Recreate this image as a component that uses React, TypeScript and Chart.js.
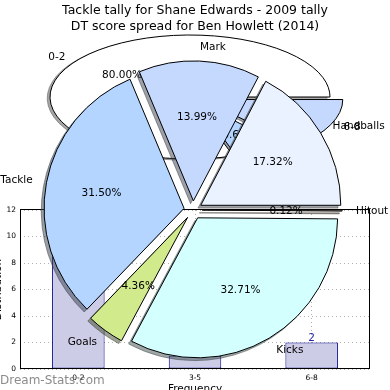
import React, { useEffect, useRef } from "react";
import { Chart, registerables } from "chart.js";

Chart.register(...registerables);

const FONT = '"DejaVu Sans", "Liberation Sans", sans-serif';
const W = 390;
const H = 390;
const LABEL_PX = 10.5;

const titleLines = [
  "Tackle tally for Shane Edwards - 2009 tally",
  "DT score spread for Ben Howlett (2014)",
];
const watermark = "Dream-Stats.com";

// Tackle tally histogram
const tallyCategories = ["0-2", "3-5", "6-8"];
const tallyCounts = [12, 1, 2];
const tallyYMax = 12;
const tallyYStep = 2;
const tallyXTitle = "Frequency";
const tallyYTitle = "Distribution";

// Tackle tally pie (background, elliptical)
const tallyPieColors = ["#FFFFFF", "#B3D5FF", "#C5D9FF"];
const tallyPieExplode = [0, 0.1, 0.1];

// DT score spread pie (front)
const dtCategories = ["Handballs", "Mark", "Tackle", "Goals", "Kicks", "Hitout"];
const dtShares = [17.32, 13.99, 31.5, 4.36, 32.71, 0.12];
const dtColors = ["#EAF1FF", "#C5D9FF", "#B3D5FF", "#D0EA8C", "#D4FFFF", "#FFE4C4"];
const dtExplode = [0.065, 0.065, 0.065, 0.065, 0.065, 0.065];

function hexToRgb(h: string) {
  const n = parseInt(h.slice(1), 16);
  return [(n >> 16) & 255, (n >> 8) & 255, n & 255];
}

function wedge(ctx: CanvasRenderingContext2D, cx: number, cy: number, rx: number, ry: number, a0: number, a1: number) {
  ctx.beginPath();
  ctx.moveTo(cx, cy);
  ctx.ellipse(cx, cy, rx, ry, 0, a0, a1);
  ctx.closePath();
}

function piePlugin(id: string, labels: string[], values: number[], colors: string[], explode: number[], yRatio: number) {
  return {
    id,
    beforeDatasetsDraw(chart: any) {
      const ctx: CanvasRenderingContext2D = chart.ctx;
      const meta = chart.getDatasetMeta(0);
      const n = meta.data.length;
      const total = values.reduce((a, b) => a + b, 0);
      const items = meta.data.map((el: any, i: number) => {
        const k = n - 1 - i;
        const p = el.getProps(["x", "y", "startAngle", "endAngle", "outerRadius"], true);
        const rx = p.outerRadius;
        const ry = p.outerRadius * yRatio;
        const mid = (p.startAngle + p.endAngle) / 2;
        const e = explode[k];
        return {
          el, k, x: p.x, y: p.y,
          cx: p.x + Math.cos(mid) * e * rx,
          cy: p.y + Math.sin(mid) * e * ry,
          rx, ry, a0: p.startAngle, a1: p.endAngle, mid,
        };
      });
      // shadows
      items.forEach((it: any) => {
        const [r, g, b] = hexToRgb(colors[it.k]);
        const c = `rgba(${Math.round(r * 0.3)},${Math.round(g * 0.3)},${Math.round(b * 0.3)},0.5)`;
        ctx.save();
        ctx.fillStyle = c;
        ctx.strokeStyle = c;
        ctx.lineWidth = 1;
        wedge(ctx, it.cx - 0.02 * it.rx, it.cy + 0.02 * it.ry, it.rx, it.ry, it.a0, it.a1);
        ctx.fill();
        ctx.stroke();
        ctx.restore();
      });
      // wedges
      items.forEach((it: any) => {
        if (yRatio === 1) {
          ctx.save();
          ctx.translate(it.cx - it.x, it.cy - it.y);
          it.el.draw(ctx);
          ctx.restore();
        } else {
          ctx.save();
          ctx.fillStyle = colors[it.k];
          ctx.strokeStyle = "#000";
          ctx.lineWidth = 1;
          ctx.lineJoin = "miter";
          wedge(ctx, it.cx, it.cy, it.rx, it.ry, it.a0, it.a1);
          ctx.fill();
          ctx.stroke();
          ctx.restore();
        }
      });
      // labels
      ctx.save();
      ctx.font = `${LABEL_PX}px ${FONT}`;
      ctx.fillStyle = "#000";
      ctx.textBaseline = "middle";
      items.forEach((it: any) => {
        const c = Math.cos(it.mid);
        const s = Math.sin(it.mid);
        ctx.textAlign = c >= 0 ? "left" : "right";
        ctx.fillText(labels[it.k], it.cx + 1.1 * it.rx * c, it.cy + 1.1 * it.ry * s + 0.5);
        ctx.textAlign = "center";
        ctx.fillText(((values[it.k] / total) * 100).toFixed(2) + "%", it.cx + 0.6 * it.rx * c, it.cy + 0.6 * it.ry * s + 0.5);
      });
      ctx.restore();
      return false;
    },
  };
}

const barDecor = {
  id: "barDecor",
  afterDatasetsDraw(chart: any) {
    const ctx: CanvasRenderingContext2D = chart.ctx;
    const ca = chart.chartArea;
    ctx.save();
    ctx.strokeStyle = "#000";
    ctx.lineWidth = 1;
    const l = Math.round(ca.left) + 0.5;
    const t = Math.round(ca.top) - 0.5;
    const r = Math.round(ca.right) - 0.5;
    const b = Math.round(ca.bottom) - 0.5;
    ctx.strokeRect(l, t, r - l, b - t);
    // value labels
    const meta = chart.getDatasetMeta(0);
    ctx.font = `${LABEL_PX}px ${FONT}`;
    ctx.fillStyle = "#2828A8";
    ctx.textAlign = "center";
    ctx.textBaseline = "alphabetic";
    meta.data.forEach((el: any, i: number) => {
      ctx.fillText(String(tallyCounts[i]), el.x, el.y - 1.5);
    });
    // axis titles
    ctx.fillStyle = "#000";
    ctx.fillText(tallyXTitle, (ca.left + ca.right) / 2, 392);
    ctx.translate(0.5, (ca.top + ca.bottom) / 2);
    ctx.rotate(-Math.PI / 2);
    ctx.fillText(tallyYTitle, 0, 0);
    ctx.restore();
  },
};

const frontDecor = {
  id: "frontDecor",
  afterDraw(chart: any) {
    const ctx: CanvasRenderingContext2D = chart.ctx;
    ctx.save();
    ctx.fillStyle = "#000";
    ctx.font = `12.5px ${FONT}`;
    ctx.textAlign = "center";
    ctx.textBaseline = "alphabetic";
    ctx.fillText(titleLines[0], 195, 14);
    ctx.fillText(titleLines[1], 195, 30);
    ctx.font = `12px ${FONT}`;
    ctx.fillStyle = "rgba(110,110,110,0.8)";
    ctx.textAlign = "left";
    ctx.fillText(watermark, 0, 384);
    ctx.restore();
  },
};

const gridStyle = { display: true, color: "#b0b0b0", lineWidth: 1, drawTicks: false };

export default function App() {
  const barRef = useRef<HTMLCanvasElement>(null);
  const backRef = useRef<HTMLCanvasElement>(null);
  const frontRef = useRef<HTMLCanvasElement>(null);

  useEffect(() => {
    const common = {
      responsive: false,
      animation: false as const,
      devicePixelRatio: 1,
      events: [] as any[],
    };
    const bar = new Chart(barRef.current as HTMLCanvasElement, {
      type: "bar",
      data: {
        labels: tallyCategories,
        datasets: [
          {
            data: tallyCounts,
            backgroundColor: "#CCCCE6",
            borderColor: "#00008B",
            borderWidth: 1,
            borderSkipped: false,
            barPercentage: 0.45,
            categoryPercentage: 1,
          },
        ],
      },
      options: {
        ...common,
        layout: { padding: { left: 0, top: 210, right: 20, bottom: 0 }, autoPadding: false },
        plugins: { legend: { display: false }, title: { display: false }, tooltip: { enabled: false } },
        scales: {
          x: {
            grid: { ...gridStyle, offset: false },
            border: { display: false, dash: [1, 3] },
            ticks: { font: { family: FONT, size: 7.5 }, color: "#000", padding: 5, maxRotation: 0, autoSkip: false },
            afterFit: (s: any) => { s.height = 21; },
          },
          y: {
            min: 0,
            max: tallyYMax,
            grid: gridStyle,
            border: { display: false, dash: [1, 3] },
            ticks: { stepSize: tallyYStep, font: { family: FONT, size: 7.5 }, color: "#000", padding: 4 },
            afterFit: (s: any) => { s.width = 20; },
          },
        },
      } as any,
      plugins: [barDecor],
    });

    const back = new Chart(backRef.current as HTMLCanvasElement, {
      type: "pie",
      data: {
        labels: [...tallyCategories].reverse(),
        datasets: [
          {
            data: [...tallyCounts].reverse(),
            backgroundColor: [...tallyPieColors].reverse(),
            borderColor: "#000",
            borderWidth: 1,
            offset: 0,
            hoverOffset: 0,
            rotation: 90,
            radius: 140,
          } as any,
        ],
      },
      options: {
        ...common,
        rotation: 90,
        radius: 140,
        layout: { padding: { left: 0, top: 0, right: 10, bottom: 196 }, autoPadding: false },
        plugins: { legend: { display: false }, title: { display: false }, tooltip: { enabled: false } },
      } as any,
      plugins: [piePlugin("tallyPie", tallyCategories, tallyCounts, tallyPieColors, tallyPieExplode, 62 / 140)],
    });

    const front = new Chart(frontRef.current as HTMLCanvasElement, {
      type: "pie",
      data: {
        labels: [...dtCategories].reverse(),
        datasets: [
          {
            data: [...dtShares].reverse(),
            backgroundColor: [...dtColors].reverse(),
            borderColor: "#000",
            borderWidth: 1,
            offset: 0,
            hoverOffset: 0,
            rotation: 90,
            radius: 140,
          } as any,
        ],
      },
      options: {
        ...common,
        rotation: 90,
        radius: 140,
        layout: { padding: { left: 0, top: 30, right: 4, bottom: 0 }, autoPadding: false },
        plugins: { legend: { display: false }, title: { display: false }, tooltip: { enabled: false } },
      } as any,
      plugins: [piePlugin("dtPie", dtCategories, dtShares, dtColors, dtExplode, 1), frontDecor],
    });

    return () => {
      bar.destroy();
      back.destroy();
      front.destroy();
    };
  }, []);

  const cs: React.CSSProperties = { position: "absolute", left: 0, top: 0, width: W, height: H };
  return (
    <div style={{ position: "absolute", left: 0, top: 0, width: W, height: H, background: "#fff", overflow: "hidden" }}>
      <canvas ref={barRef} width={W} height={H} style={cs} />
      <canvas ref={backRef} width={W} height={H} style={cs} />
      <canvas ref={frontRef} width={W} height={H} style={cs} />
    </div>
  );
}
